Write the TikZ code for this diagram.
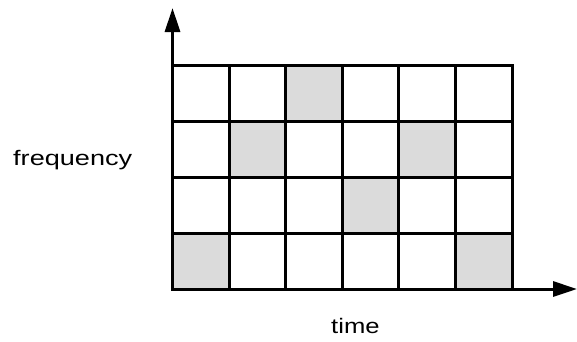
\documentclass[tikz,border=0pt]{standalone}
\usepackage{fontspec}
\setmainfont{Liberation Sans}
\usetikzlibrary{arrows.meta}
\tikzset{
  cell/.style={draw, line width=3pt, minimum width=56.6pt, minimum height=56pt, inner sep=0pt, outer sep=0pt},
  shaded/.style={cell, fill=gray!28},
  axis/.style={line width=3pt, -{Triangle[length=24pt,width=15pt]}},
  lbl/.style={inner sep=0pt, anchor=base west, font=\fontsize{21}{24}\selectfont}
}
\begin{document}
\begin{tikzpicture}[x=1pt,y=-1pt]
\useasboundingbox (0,0) rectangle (577,341);
\foreach \r in {1,...,4}{
  \foreach \c in {1,...,6}{
    \node[cell] (c-\r-\c) at ({172.5+56.6*(\c-0.5)},{65+56*(\r-0.5)}) {};
  }
}
\foreach \r/\c in {1/3,2/2,2/5,3/4,4/1,4/6}{
  \node[shaded] (s-\r-\c) at ({172.5+56.6*(\c-0.5)},{65+56*(\r-0.5)}) {};
}
\coordinate (origin) at (172.5,289);
\coordinate (ytip) at (172.5,8);
\coordinate (xtip) at (577,289);
\draw[axis] (origin) -- (ytip);
\draw[axis] (origin) -- (xtip);
\node[lbl] (freq) at (13,165) {\scalebox{1.29}[1]{frequency}};
\node[lbl] (time) at (331,333) {\scalebox{1.22}[1]{time}};
\end{tikzpicture}
\end{document}
